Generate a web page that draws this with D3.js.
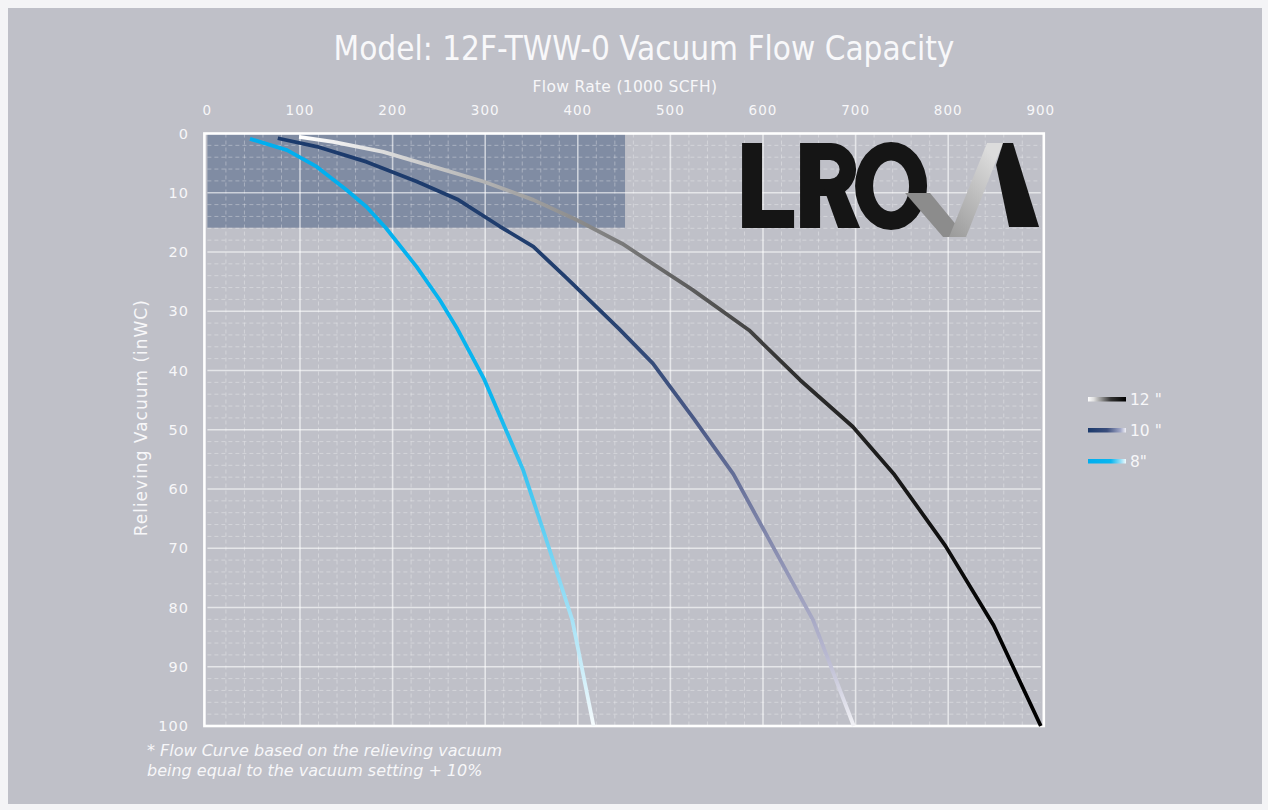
<!DOCTYPE html>
<html>
<head>
<meta charset="utf-8">
<script src="https://cdn.jsdelivr.net/npm/d3@7/dist/d3.min.js"></script>
<style>
  html, body { margin: 0; padding: 0; background: #ffffff; }
  svg { display: block; }
</style>
</head>
<body>
<svg id="chart" width="1268" height="810"></svg>
<script>
// ---------- data ----------
const seriesNames = ['12 "', '10 "', '8"'];
const flow12 = [99, 136, 190, 244, 298, 352, 399, 448, 524, 585, 640, 697, 742, 797, 849, 900];
const vac12  = [0.55, 1.4, 3.1, 5.6, 8.1, 11.2, 14.6, 18.6, 26.4, 33.2, 41.6, 49.5, 57.6, 69.6, 83, 100];
const flow10 = [76, 118, 172, 226, 271, 316, 352, 388, 444, 481, 525, 568, 610, 654, 698];
const vac10  = [0.8, 2.2, 4.8, 8.1, 11.2, 15.7, 19.1, 24.4, 32.9, 38.8, 48.1, 57.5, 69.5, 82.1, 100];
const flow8  = [46, 86, 118, 150, 172, 193, 226, 251, 270, 299, 341, 369, 394, 417];
const vac8   = [0.9, 2.8, 5.6, 9.5, 12.4, 16, 22.5, 28.1, 33, 41.5, 56.8, 70, 82.1, 100];
const xTicks = [0, 100, 200, 300, 400, 500, 600, 700, 800, 900];
const yTicks = [0, 10, 20, 30, 40, 50, 60, 70, 80, 90, 100];
const shadeFlow = [0, 451];
const shadeVac = [0, 15.9];

const titleText = "Model: 12F-TWW-0 Vacuum Flow Capacity";
const xTitle = "Flow Rate (1000 SCFH)";
const yTitle = "Relieving Vacuum (inWC)";
const notes = ["* Flow Curve based on the relieving vacuum", "being equal to the vacuum setting + 10%"];

// ---------- setup ----------
const svg = d3.select("#chart");
const W = 1268, H = 810;
const condensed = "'Liberation Sans Narrow', 'DejaVu Sans Condensed', 'Roboto', sans-serif";
const wide = "'DejaVu Sans', 'Verdana', sans-serif";

svg.append("rect").attr("x", 0).attr("y", 0).attr("width", W).attr("height", H).attr("fill", "#f4f4f6");
svg.append("rect").attr("x", 8).attr("y", 8).attr("width", W - 14).attr("height", H - 14).attr("fill", "#bfc0c8");

const x = d3.scaleLinear().domain([0, 900]).range([207.4, 1040.8]);
const y = d3.scaleLinear().domain([0, 100]).range([133.5, 726]);

const defs = svg.append("defs");

// shaded region
svg.append("rect")
  .attr("x", x(shadeFlow[0])).attr("y", y(shadeVac[0]))
  .attr("width", x(shadeFlow[1]) - x(shadeFlow[0]))
  .attr("height", y(shadeVac[1]) - y(shadeVac[0]))
  .attr("fill", "rgba(76,96,133,0.55)");

// minor grid
const g = svg.append("g");
g.selectAll(".mvx").data(d3.range(20, 900, 20).filter(v => v % 100 !== 0)).join("line")
  .attr("x1", d => x(d)).attr("x2", d => x(d)).attr("y1", y(0)).attr("y2", y(100))
  .attr("stroke", "rgba(255,255,255,0.32)").attr("stroke-width", 1).attr("stroke-dasharray", "4,3");
g.selectAll(".mhy").data(d3.range(2, 100, 2).filter(v => v % 10 !== 0)).join("line")
  .attr("x1", x(0)).attr("x2", x(900)).attr("y1", d => y(d)).attr("y2", d => y(d))
  .attr("stroke", "rgba(255,255,255,0.32)").attr("stroke-width", 1).attr("stroke-dasharray", "4,3");
// major grid
g.selectAll(".Mx").data(xTicks.slice(1, -1)).join("line")
  .attr("x1", d => x(d)).attr("x2", d => x(d)).attr("y1", y(0)).attr("y2", y(100))
  .attr("stroke", "rgba(255,255,255,0.6)").attr("stroke-width", 1.6);
g.selectAll(".My").data(yTicks.slice(1, -1)).join("line")
  .attr("x1", x(0)).attr("x2", x(900)).attr("y1", d => y(d)).attr("y2", d => y(d))
  .attr("stroke", "rgba(255,255,255,0.6)").attr("stroke-width", 1.6);

// border
svg.append("rect")
  .attr("x", x(0) - 3).attr("y", y(0)).attr("width", x(900) - x(0) + 6).attr("height", y(100) - y(0))
  .attr("fill", "none").attr("stroke", "#ffffff").attr("stroke-width", 2.6);

// LRQA logo (decoration, drawn as shapes)
const logo = svg.append("g").attr("transform", `translate(${x(572)},${y(1.6)})`);
const ink = "#151515";
// L
logo.append("path").attr("d", "M5,0 H25 V67 H57 V85 H5 Z").attr("fill", ink);
// R
logo.append("path").attr("fill-rule", "evenodd").attr("fill", ink)
  .attr("d", "M63,0 H94 A25,26.5 0 0 1 94,53 H83 V85 H63 Z M83,17 H93 A9.5,9.5 0 0 1 93,36 H83 Z");
logo.append("polygon").attr("points", "87,46 107,46 123,85 101,85").attr("fill", ink);
// Q ring
logo.append("path").attr("fill-rule", "evenodd").attr("fill", ink)
  .attr("d", "M118,43 A36,44 0 1 0 190,43 A36,44 0 1 0 118,43 Z M136,43 A18,25.5 0 1 1 172,43 A18,25.5 0 1 1 136,43 Z");
// check / A
const lg = defs.append("linearGradient").attr("id", "logoGray").attr("x1", "0").attr("y1", "1").attr("x2", "0.6").attr("y2", "0");
lg.append("stop").attr("offset", "0").attr("stop-color", "#9a9a9a");
lg.append("stop").attr("offset", "1").attr("stop-color", "#dcdcdc");
logo.append("polygon").attr("points", "168,50 193,50 229,94 206,94").attr("fill", "#8c8c8c");
logo.append("polygon").attr("points", "250,0 266,0 229,94 212,94").attr("fill", "url(#logoGray)");
logo.append("polygon").attr("points", "266,0 276,0 302,84 272,84 259,22").attr("fill", ink);

// ---------- lines ----------
const series = [
  { name: seriesNames[0], fx: flow12, vy: vac12, id: "g12" },
  { name: seriesNames[1], fx: flow10, vy: vac10, id: "g10" },
  { name: seriesNames[2], fx: flow8, vy: vac8, id: "g8" }
];

function grad(id, x1, y1, x2, y2, stops) {
  const gr = defs.append("linearGradient").attr("id", id).attr("gradientUnits", "userSpaceOnUse")
    .attr("x1", x1).attr("y1", y1).attr("x2", x2).attr("y2", y2);
  stops.forEach(s => gr.append("stop").attr("offset", s[0]).attr("stop-color", s[1]));
}
grad("g12", x(100), 0, x(870), 0, [[0, "#ffffff"], [0.2, "#c4c4c4"], [0.45, "#7a7a7a"], [0.7, "#2e2e2e"], [1, "#000000"]]);
grad("g10", 0, y(0), 0, y(100), [[0, "#1b3a6c"], [0.3, "#24406f"], [0.5, "#4e5c88"], [0.72, "#8d91b3"], [0.88, "#b8b8d0"], [1, "#f2f2f6"]]);
grad("g8", 0, y(0), 0, y(100), [[0, "#00aeef"], [0.45, "#0ab6ef"], [0.65, "#55cdf3"], [0.82, "#a6e2f6"], [1, "#f6fbfd"]]);

const line = d3.line().x(d => x(d[0])).y(d => y(d[1]));
series.forEach(s => {
  const pts = s.fx.map((f, i) => [f, s.vy[i]]);
  svg.append("path").datum(pts).attr("d", line)
    .attr("fill", "none").attr("stroke", `url(#${s.id})`).attr("stroke-width", 3.8)
    .attr("stroke-linejoin", "round");
});

// ---------- axes ----------
const tickColor = "#f7f7f9";
svg.append("g").selectAll("text").data(xTicks).join("text")
  .attr("x", d => x(d)).attr("y", 115).attr("text-anchor", "middle")
  .attr("font-family", wide).attr("font-size", 13.5).attr("letter-spacing", 1)
  .attr("fill", tickColor).text(d => d);
svg.append("g").selectAll("text").data(yTicks).join("text")
  .attr("x", 189).attr("y", d => y(d) + 5).attr("text-anchor", "end")
  .attr("font-family", wide).attr("font-size", 14.5).attr("letter-spacing", 1)
  .attr("fill", tickColor).text(d => d);

svg.append("text").attr("x", 625).attr("y", 92).attr("text-anchor", "middle")
  .attr("font-family", wide).attr("font-size", 15.5).attr("letter-spacing", 0.3).attr("fill", tickColor).text(xTitle);
svg.append("text").attr("transform", `translate(147,${(y(0) + y(100)) / 2 - 12}) rotate(-90)`).attr("text-anchor", "middle")
  .attr("font-family", wide).attr("font-size", 17).attr("letter-spacing", 1).attr("fill", tickColor).text(yTitle);

svg.append("text").attr("x", 644).attr("y", 60).attr("text-anchor", "middle")
  .attr("font-family", condensed).attr("font-size", 33).attr("fill", "#f8f8fa").text(titleText);

// legend
const leg = svg.append("g");
const legGr = [
  [[0, "#ffffff"], [0.15, "#e0e0e0"], [0.6, "#333333"], [1, "#000000"]],
  [[0, "#1b3a6c"], [0.5, "#3a4d7c"], [0.85, "#a0a6c6"], [1, "#f0f0f6"]],
  [[0, "#00aeef"], [0.6, "#0ab6ef"], [0.85, "#8fdcf6"], [1, "#f0fafd"]]
];
series.forEach((s, i) => {
  const ly = 399 + i * 31;
  grad("lg" + i, 1088, 0, 1126, 0, legGr[i]);
  leg.append("rect").attr("x", 1088).attr("y", ly - 2).attr("width", 38).attr("height", 4.5).attr("fill", `url(#lg${i})`);
  leg.append("text").attr("x", 1130).attr("y", ly + 6).attr("font-family", wide).attr("font-size", 15.5)
    .attr("fill", tickColor).text(s.name);
});

// footnote
notes.forEach((t, i) => {
  svg.append("text").attr("x", 147).attr("y", 756 + i * 20).attr("font-family", wide)
    .attr("font-style", "italic").attr("font-size", 16).attr("fill", tickColor).text(t);
});
</script>
</body>
</html>
